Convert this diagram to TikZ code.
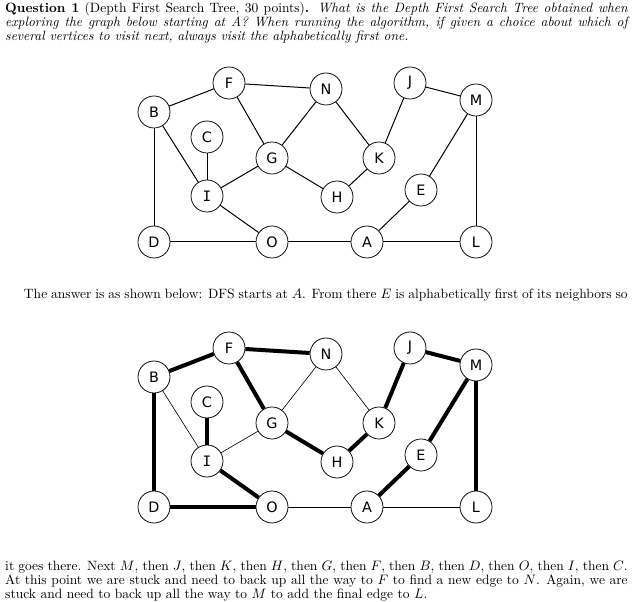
\documentclass[tikz,border=0pt]{standalone}
\usepackage{fontspec}
\usepackage{amsmath}
\usetikzlibrary{positioning}
\newfontfamily\vertexfont{DejaVu Sans}
\newfontfamily\vertexmono{DejaVu Sans Mono}

\begin{document}
\begin{tikzpicture}[x=0.8pt,y=-0.8pt,
    vertex/.style={circle,draw,line width=0.6pt,minimum size=25.6pt,inner sep=0pt,
        fill=white,font=\vertexfont\fontsize{11.5}{11.5}\selectfont},
    plain/.style={line width=0.8pt},
    slim/.style={line width=0.5pt},
    tree/.style={line width=3.2pt},
    para/.style={anchor=north west,inner sep=0pt,text width=498pt,align=justify,
        font=\fontsize{10.8}{11.3}\selectfont}]
    \useasboundingbox (0,0) rectangle (634,602);

    \node[para] (question) at (5,2) {\textbf{Question 1} (Depth First Search Tree, 30 points)\textbf{.}
        \textit{What is the Depth First Search Tree obtained when exploring the graph below
        starting at A? When running the algorithm, if given a choice about which of several
        vertices to visit next, always visit the alphabetically first one.}};

    \foreach \v/\x/\y/\lbl in {B/154/112/B, F/229/83/F, N/326/89/N, J/410/83/J, M/476/100/M,
                          C/207/137/C, G/272/158/G, K/379/158/K, E/421/190/E,
                          I/207/196/{\vertexmono I}, H/337/197/H, D/154/242/D,
                          O/272/242/O, A/367/242/A, L/476/242/L}
    {
        \node[vertex] (q_\v) at (\x,\y) {\lbl};
        \node[vertex] (a_\v) at (\x,\y+265) {\lbl};
    }

    \path[plain]
    (q_B) edge (q_F)
          edge (q_I)
          edge (q_D)
    (q_F) edge (q_N)
          edge (q_G)
    (q_C) edge (q_I)
    (q_G) edge (q_N)
          edge (q_I)
          edge (q_H)
    (q_K) edge (q_N)
          edge (q_J)
          edge (q_H)
    (q_M) edge (q_J)
          edge (q_E)
          edge (q_L)
    (q_A) edge (q_E)
          edge (q_O)
          edge (q_L)
    (q_O) edge (q_I)
          edge (q_D)
    ;

    \node[para] (answer) at (5,289) {\parfillskip=0pt\hspace*{15pt}The answer is as shown below:
        DFS starts at $A$. From there $E$ is alphabetically first of its neighbors so\par};

    \path[slim]
    (a_B) edge (a_I)
    (a_G) edge (a_N)
          edge (a_I)
    (a_K) edge (a_N)
    (a_A) edge (a_O)
          edge (a_L)
    ;
    \path[tree]
    (a_A) edge (a_E)
    (a_E) edge (a_M)
    (a_M) edge (a_J)
          edge (a_L)
    (a_J) edge (a_K)
    (a_K) edge (a_H)
    (a_H) edge (a_G)
    (a_G) edge (a_F)
    (a_F) edge (a_B)
          edge (a_N)
    (a_B) edge (a_D)
    (a_D) edge (a_O)
    (a_O) edge (a_I)
    (a_I) edge (a_C)
    ;

    \node[para] (story) at (5,561) {it goes there. Next $M$, then $J$, then $K$, then $H$,
        then $G$, then $F$, then $B$, then $D$, then $O$, then $I$, then $C$.\linebreak At this point we
        are stuck and need to back up all the way to $F$ to find a new edge to $N$. Again, we
        are stuck and need to back up all the way to $M$ to add the final edge to $L$.};
\end{tikzpicture}
\end{document}
